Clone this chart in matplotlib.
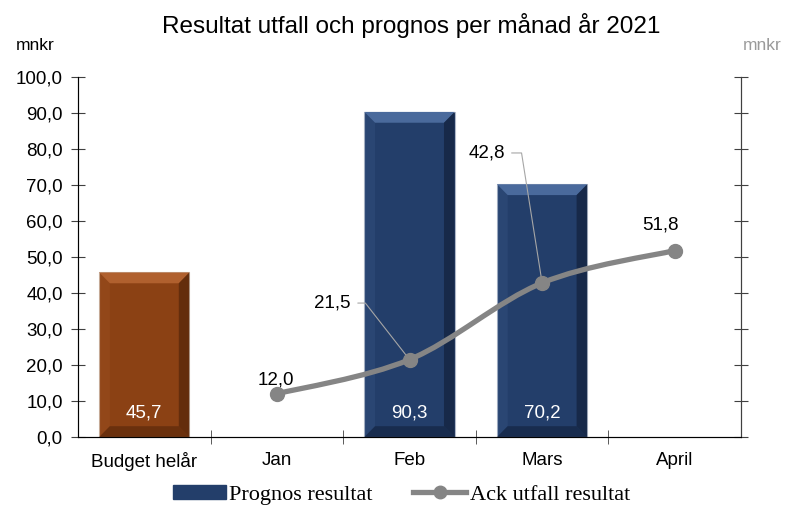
import numpy as np
import matplotlib.pyplot as plt
from matplotlib.path import Path
from matplotlib.patches import PathPatch
from matplotlib.lines import Line2D
from matplotlib.patches import Patch

categories = ['Budget helår', 'Jan', 'Feb', 'Mars', 'April']
budget = [45.7]
prognos = [90.3, 70.2]          # Feb, Mars
ack = [12.0, 21.5, 42.8, 51.8]  # Jan..April

yticks = np.arange(0, 101, 10)

plt.rcParams['font.family'] = 'Liberation Sans'


def fmt(v):
    return f'{v:.1f}'.replace('.', ',')


fig = plt.figure(figsize=(7.87, 5.05), dpi=100)
ax = fig.add_axes([0.0991, 0.1347, 0.8425, 0.7128])

x = np.arange(len(categories))
bw = 0.68
fs = 13.5

# bars
ax.bar(x[0], budget[0], width=bw, color='#8B4114', edgecolor='#c9b8aa', lw=0.8, zorder=2)
ax.bar(x[2:4], prognos, width=bw, color='#233E6A', edgecolor='#b0b8c8', lw=0.8, zorder=2)

# bevel shading on bars
for xi, h, light, dark in [(x[0], budget[0], '#B0602E', '#4a2008'),
                           (x[2], prognos[0], '#4A6A9C', '#0f1c33'),
                           (x[3], prognos[1], '#4A6A9C', '#0f1c33')]:
    l, r = xi - bw / 2, xi + bw / 2
    d = 0.08
    dy = 3.0
    ax.fill([l, r, r - d, l + d], [h, h, h - dy, h - dy], color=light, zorder=3, lw=0)
    ax.fill([r, r, r - d, r - d], [0, h, h - dy, dy], color=dark, alpha=0.6, zorder=3, lw=0)
    ax.fill([l, l, l + d, l + d], [0, h, h - dy, dy], color=light, alpha=0.2, zorder=3, lw=0)
    ax.fill([l, r, r - d, l + d], [0, 0, dy, dy], color=dark, alpha=0.5, zorder=3, lw=0)

for xi, v in zip([x[0], x[2], x[3]], budget + prognos):
    ax.text(xi, 6.6, fmt(v), ha='center', va='center', color='white', fontsize=fs, zorder=5)

# smoothed cumulative line (Catmull-Rom -> bezier)
px = x[1:].astype(float)
py = np.array(ack)
verts = [(px[0], py[0])]
codes = [Path.MOVETO]
n = len(px)
for i in range(n - 1):
    p0 = (px[max(i - 1, 0)], py[max(i - 1, 0)])
    p1 = (px[i], py[i])
    p2 = (px[i + 1], py[i + 1])
    p3 = (px[min(i + 2, n - 1)], py[min(i + 2, n - 1)])
    t = 1 / 6
    c1 = (p1[0] + (p2[0] - p0[0]) * t, p1[1] + (p2[1] - p0[1]) * t)
    c2 = (p2[0] - (p3[0] - p1[0]) * t, p2[1] - (p3[1] - p1[1]) * t)
    verts += [c1, c2, p2]
    codes += [Path.CURVE4] * 3
ax.add_patch(PathPatch(Path(verts, codes), fill=False, edgecolor='#858585', lw=3.8,
                       capstyle='round', zorder=4))
ax.plot(px, py, 'o', color='#858585', ms=10, zorder=4)

# line labels
ax.text(px[0] - 0.01, py[0] + 3.9, fmt(ack[0]), ha='center', va='center', fontsize=fs)
ax.text(px[3] - 0.11, py[3] + 7.1, fmt(ack[3]), ha='center', va='center', fontsize=fs)
ax.annotate(fmt(ack[1]), xy=(px[1], py[1]), xytext=(px[1] - 0.58, py[1] + 15.7),
            ha='center', va='center', fontsize=fs,
            arrowprops=dict(arrowstyle='-', color='#a6a6a6', lw=0.8,
                            connectionstyle='angle,angleA=0,angleB=128,rad=0',
                            shrinkA=3, shrinkB=0))
ax.annotate(fmt(ack[2]), xy=(px[2], py[2]), xytext=(px[2] - 0.42, py[2] + 36.1),
            ha='center', va='center', fontsize=fs,
            arrowprops=dict(arrowstyle='-', color='#a6a6a6', lw=0.8,
                            connectionstyle='angle,angleA=0,angleB=99,rad=0',
                            shrinkA=3, shrinkB=0))

# axes
ax.set_xlim(-0.5, len(categories) - 0.5)
ax.set_ylim(0, 100)
ax.set_yticks(yticks)
ax.set_yticklabels([fmt(v) for v in yticks], fontsize=fs)
ax.set_xticks(x)
ax.set_xticklabels(categories, fontsize=fs)
ax.tick_params(axis='x', length=0, pad=11)
ax.set_xticks(np.arange(0.5, len(categories) - 0.5, 1), minor=True)
ax.tick_params(axis='x', which='minor', direction='inout', length=10, color='#404040')
ax.tick_params(axis='y', direction='inout', length=10, color='#404040', pad=6)
ax.spines['top'].set_visible(False)
for s in ['left', 'right', 'bottom']:
    ax.spines[s].set_color('#404040')

ax2 = ax.twinx()
ax2.set_ylim(0, 100)
ax2.set_yticks(yticks)
ax2.set_yticklabels([])
ax2.tick_params(axis='y', direction='inout', length=10, color='#404040')
ax2.spines['top'].set_visible(False)
ax2.spines['right'].set_color('#404040')

fig.text(0.523, 0.95, 'Resultat utfall och prognos per månad år 2021', ha='center', va='center',
         fontsize=17.5)
fig.text(0.045, 0.91, 'mnkr', ha='center', va='center', fontsize=12.5)
fig.text(0.968, 0.91, 'mnkr', ha='center', va='center', fontsize=12.5, color='#9a9a9a')

handles = [Patch(facecolor='#233E6A', edgecolor='#233E6A'),
           Line2D([0], [0], color='#858585', lw=3.8, marker='o', ms=9)]
fig.legend(handles, ['Prognos resultat', 'Ack utfall resultat'], loc='center',
           bbox_to_anchor=(0.51, 0.02), ncol=2, frameon=False, handlelength=2.4,
           handleheight=0.6, columnspacing=1.8, handletextpad=0.15,
           prop={'family': 'Liberation Serif', 'size': 16})

fig.savefig('out.png', dpi=100)
